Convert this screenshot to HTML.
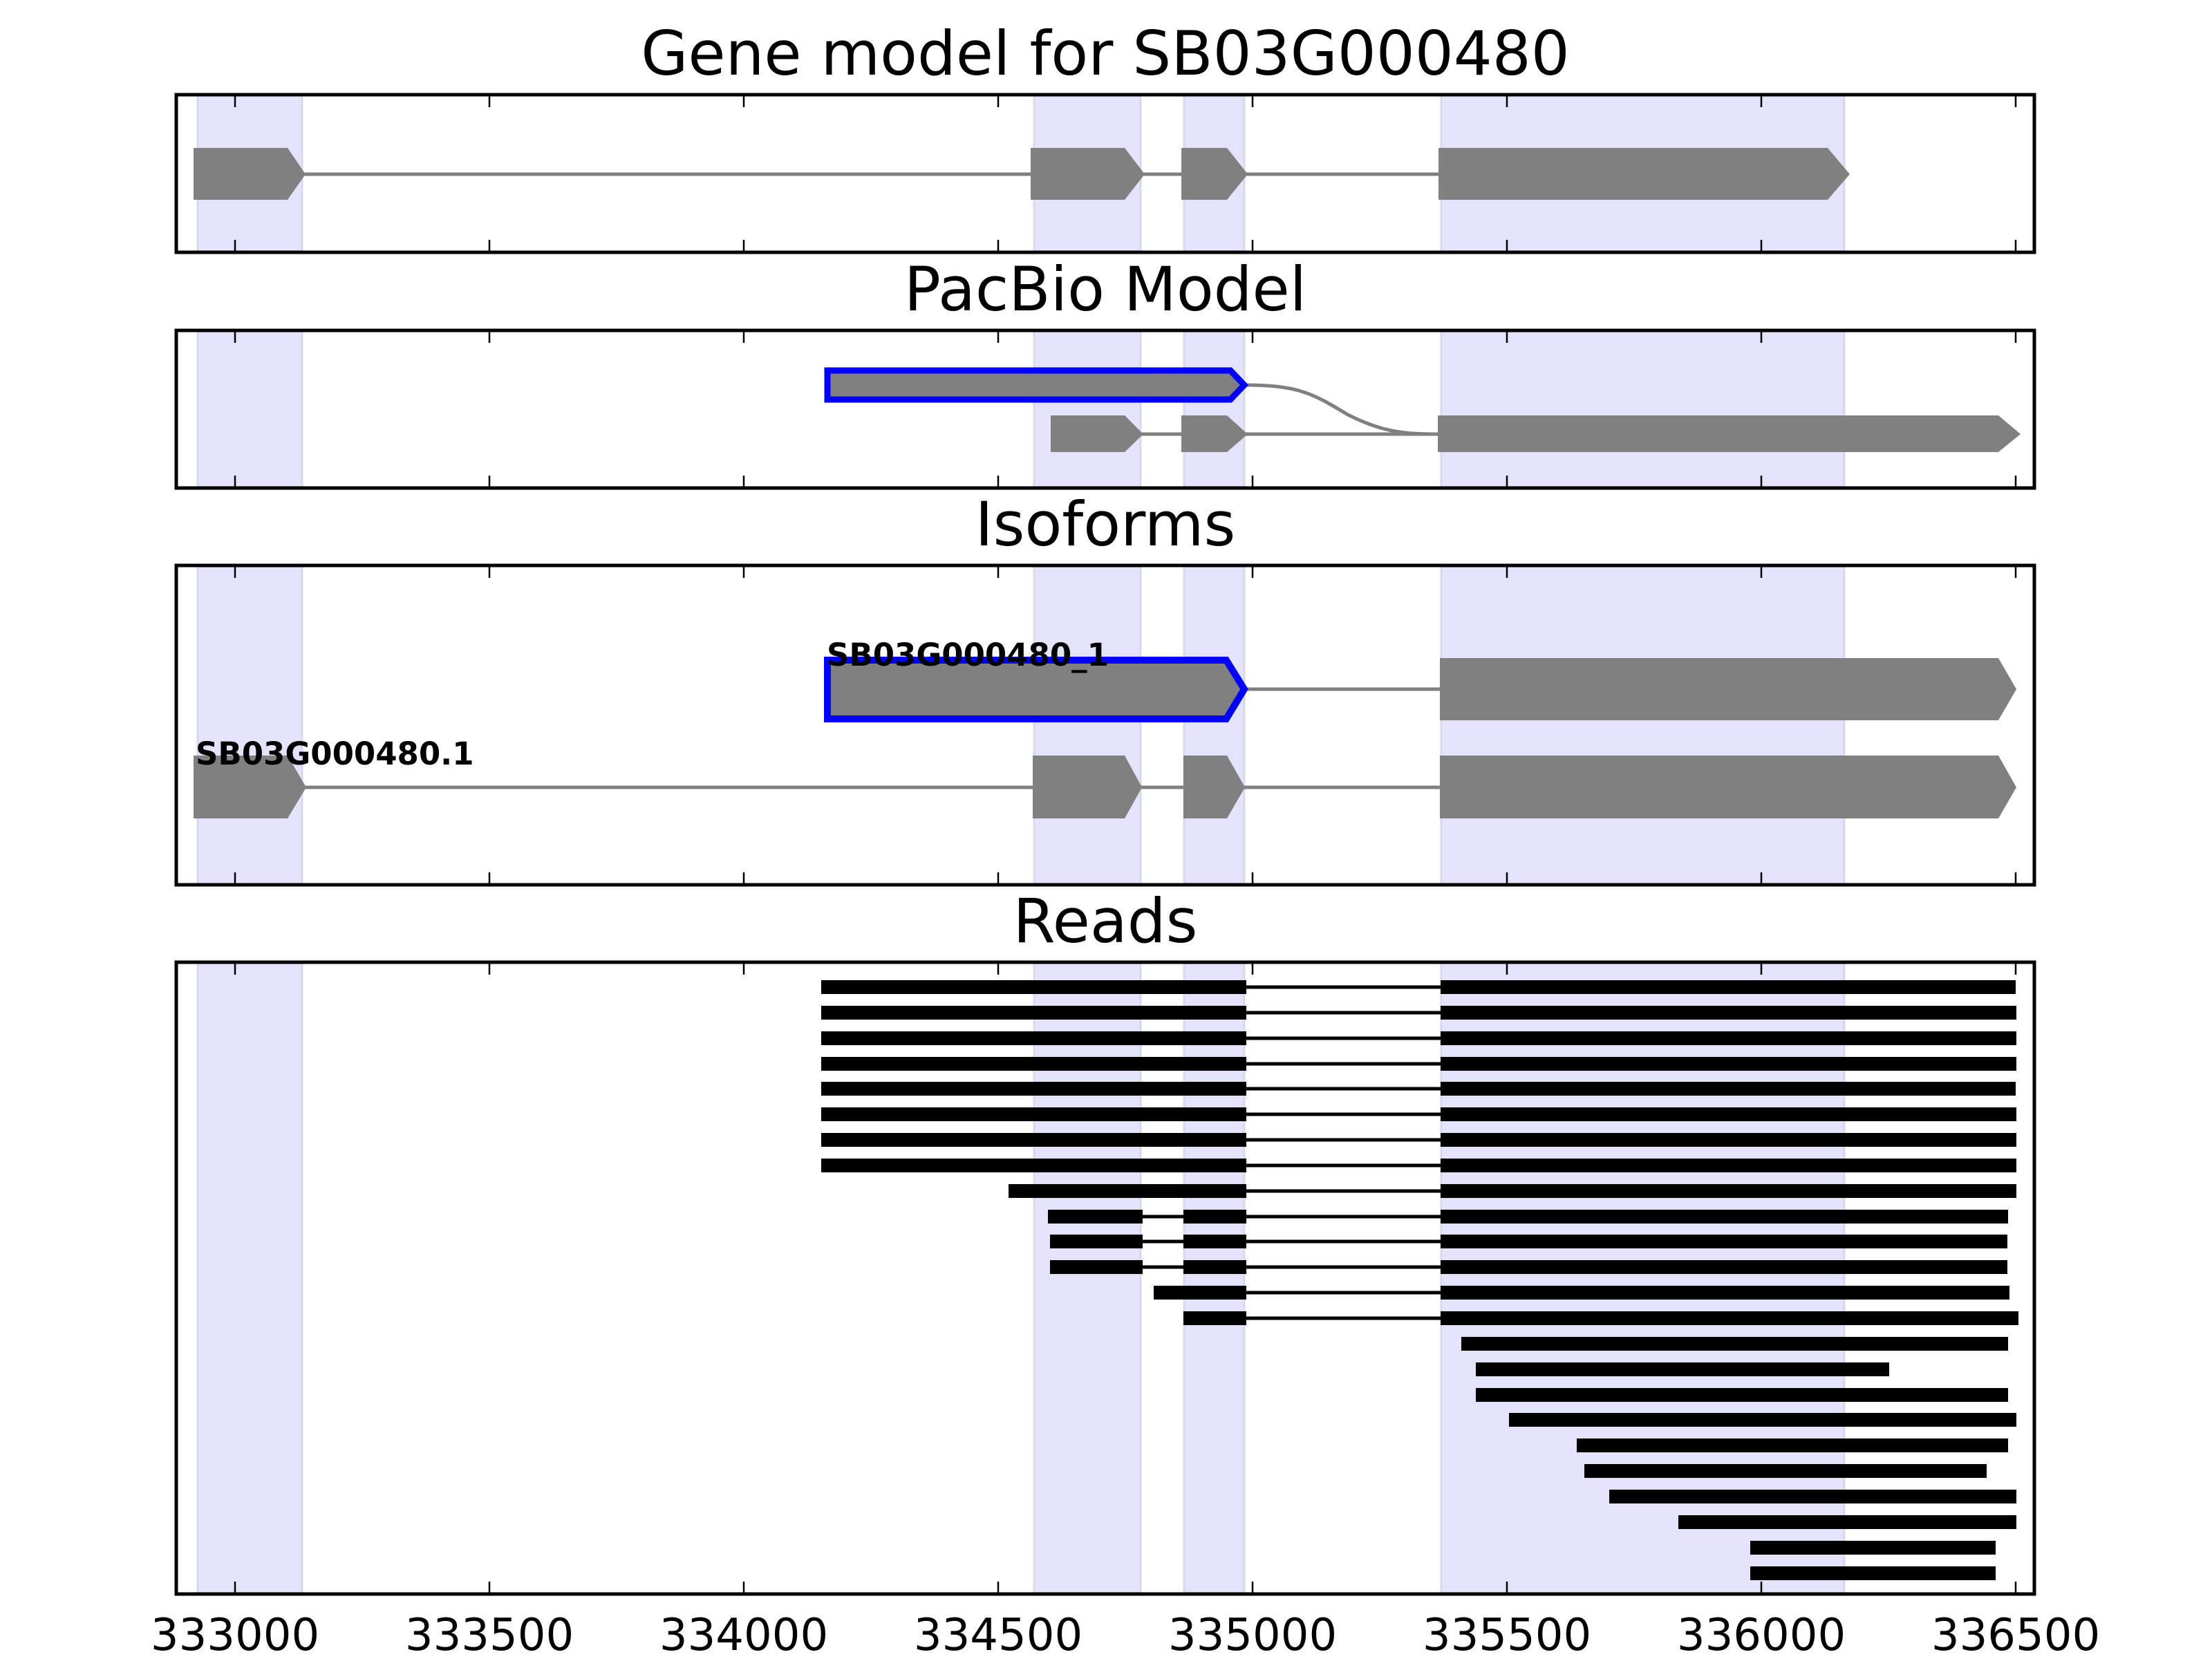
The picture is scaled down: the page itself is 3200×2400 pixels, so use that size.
<!DOCTYPE html>
<html><head><meta charset="utf-8"><style>html,body{margin:0;padding:0;background:#fff;width:3200px;height:2400px;overflow:hidden}svg{display:block}</style></head>
<body>
<svg xmlns="http://www.w3.org/2000/svg" width="3200" height="2400" viewBox="0 0 3200 2400" font-family="DejaVu Sans, Liberation Sans, sans-serif">
<defs>
<g id="shade">
<rect x="286" y="130" width="151" height="2180" fill="#e3e3fc" stroke="#d8d8ec" stroke-width="3"/>
<rect x="1496" y="130" width="154" height="2180" fill="#e3e3fc" stroke="#d8d8ec" stroke-width="3"/>
<rect x="1713" y="130" width="87" height="2180" fill="#e3e3fc" stroke="#d8d8ec" stroke-width="3"/>
<rect x="2085" y="130" width="583" height="2180" fill="#e3e3fc" stroke="#d8d8ec" stroke-width="3"/>
</g>
<clipPath id="c1"><rect x="255" y="137" width="2688" height="228"/></clipPath>
<clipPath id="c2"><rect x="255" y="478" width="2688" height="228"/></clipPath>
<clipPath id="c3"><rect x="255" y="818" width="2688" height="462"/></clipPath>
<clipPath id="c4"><rect x="255" y="1392" width="2688" height="914"/></clipPath>
</defs>

<g font-size="88" text-anchor="middle" fill="#000">
<text x="1599" y="108">Gene model for SB03G000480</text>
<text x="1599" y="449">PacBio Model</text>
<text x="1599" y="789">Isoforms</text>
<text x="1599" y="1363">Reads</text>
</g>

<g clip-path="url(#c1)"><use href="#shade"/></g>
<line x1="440" y1="252" x2="2082" y2="252" stroke="#808080" stroke-width="5"/>
<g fill="#808080">
<polygon points="280,214 416,214 442,252 416,289 280,289"/>
<polygon points="1491,214 1627,214 1656,252 1627,289 1491,289"/>
<polygon points="1709,214 1775,214 1805,252 1775,289 1709,289"/>
<polygon points="2081,214 2644,214 2676,252 2644,289 2081,289"/>
</g>

<g clip-path="url(#c2)"><use href="#shade"/></g>
<line x1="1650" y1="628" x2="2082" y2="628" stroke="#808080" stroke-width="5"/>
<path d="M1800,557 C1880,557 1900,570 1950,600 C2000,625 2030,628 2082,628" fill="none" stroke="#808080" stroke-width="5"/>
<g fill="#808080">
<polygon points="1520,601 1627,601 1654,628 1627,654 1520,654"/>
<polygon points="1709,601 1775,601 1805,628 1775,654 1709,654"/>
<polygon points="2080,601 2891,601 2923,628 2891,654 2080,654"/>
</g>
<polygon points="1197,536 1780,536 1800,557 1780,578 1197,578" fill="#808080" stroke="#0000ff" stroke-width="9"/>

<g clip-path="url(#c3)"><use href="#shade"/></g>
<line x1="1800" y1="997" x2="2085" y2="997" stroke="#808080" stroke-width="5"/>
<line x1="440" y1="1139" x2="2085" y2="1139" stroke="#808080" stroke-width="5"/>
<g fill="#808080">
<polygon points="2083,952 2891,952 2917,997 2891,1042 2083,1042"/>
<polygon points="280,1093 416,1093 443,1139 416,1184 280,1184"/>
<polygon points="1494,1093 1627,1093 1652,1139 1627,1184 1494,1184"/>
<polygon points="1712,1093 1775,1093 1801,1139 1775,1184 1712,1184"/>
<polygon points="2083,1093 2891,1093 2917,1139 2891,1184 2083,1184"/>
</g>
<polygon points="1197,955 1774,955 1800,997 1774,1040 1197,1040" fill="#808080" stroke="#0000ff" stroke-width="10"/>
<g font-size="45" font-weight="bold" fill="#000">
<text x="1196" y="963">SB03G000480_1</text>
<text x="283" y="1106">SB03G000480.1</text>
</g>

<g clip-path="url(#c4)"><use href="#shade"/></g>
<g stroke="#000" stroke-width="20" fill="none">
<path d="
M1188,1428H1803M2084,1428H2916
M1188,1465H1803M2084,1465H2917
M1188,1502H1803M2084,1502H2917
M1188,1539H1803M2084,1539H2917
M1188,1575H1803M2084,1575H2916
M1188,1612H1803M2084,1612H2917
M1188,1649H1803M2084,1649H2917
M1188,1686H1803M2084,1686H2917
M1459,1723H1803M2084,1723H2917
M1516,1760H1653M1712,1760H1803M2084,1760H2905
M1519,1796H1653M1712,1796H1803M2084,1796H2904
M1519,1833H1653M1712,1833H1803M2084,1833H2904
M1669,1870H1803M2084,1870H2907
M1712,1907H1803M2084,1907H2920
M2114,1944H2905
M2135,1981H2733
M2135,2018H2905
M2183,2054H2917
M2281,2091H2905
M2292,2128H2874
M2328,2165H2917
M2428,2202H2917
M2532,2239H2887
M2532,2276H2887"/>
</g>
<g stroke="#000" stroke-width="5">
<path d="M1803,1428H2084M1803,1465H2084M1803,1502H2084M1803,1539H2084M1803,1575H2084M1803,1612H2084M1803,1649H2084M1803,1686H2084M1803,1723H2084M1803,1760H2084M1803,1796H2084M1803,1833H2084M1803,1870H2084M1803,1907H2084M1653,1760H1712M1653,1796H1712M1653,1833H1712"/>
</g>

<g fill="none" stroke="#000" stroke-width="5">
<rect x="255" y="137" width="2688" height="228"/>
<rect x="255" y="478" width="2688" height="228"/>
<rect x="255" y="818" width="2688" height="462"/>
<rect x="255" y="1392" width="2688" height="914"/>
</g>
<g stroke="#000" stroke-width="2.5">
<path d="M340,137v18M708,137v18M1076,137v18M1444,137v18M1812,137v18M2180,137v18M2548,137v18M2916,137v18
M340,365v-18M708,365v-18M1076,365v-18M1444,365v-18M1812,365v-18M2180,365v-18M2548,365v-18M2916,365v-18
M340,478v18M708,478v18M1076,478v18M1444,478v18M1812,478v18M2180,478v18M2548,478v18M2916,478v18
M340,706v-18M708,706v-18M1076,706v-18M1444,706v-18M1812,706v-18M2180,706v-18M2548,706v-18M2916,706v-18
M340,818v18M708,818v18M1076,818v18M1444,818v18M1812,818v18M2180,818v18M2548,818v18M2916,818v18
M340,1280v-18M708,1280v-18M1076,1280v-18M1444,1280v-18M1812,1280v-18M2180,1280v-18M2548,1280v-18M2916,1280v-18
M340,1392v18M708,1392v18M1076,1392v18M1444,1392v18M1812,1392v18M2180,1392v18M2548,1392v18M2916,1392v18
M340,2306v-18M708,2306v-18M1076,2306v-18M1444,2306v-18M1812,2306v-18M2180,2306v-18M2548,2306v-18M2916,2306v-18"/>
</g>
<g font-size="64" text-anchor="middle" fill="#000">
<text x="340" y="2387">333000</text>
<text x="708" y="2387">333500</text>
<text x="1076" y="2387">334000</text>
<text x="1444" y="2387">334500</text>
<text x="1812" y="2387">335000</text>
<text x="2180" y="2387">335500</text>
<text x="2548" y="2387">336000</text>
<text x="2916" y="2387">336500</text>
</g>
</svg>
</body></html>
